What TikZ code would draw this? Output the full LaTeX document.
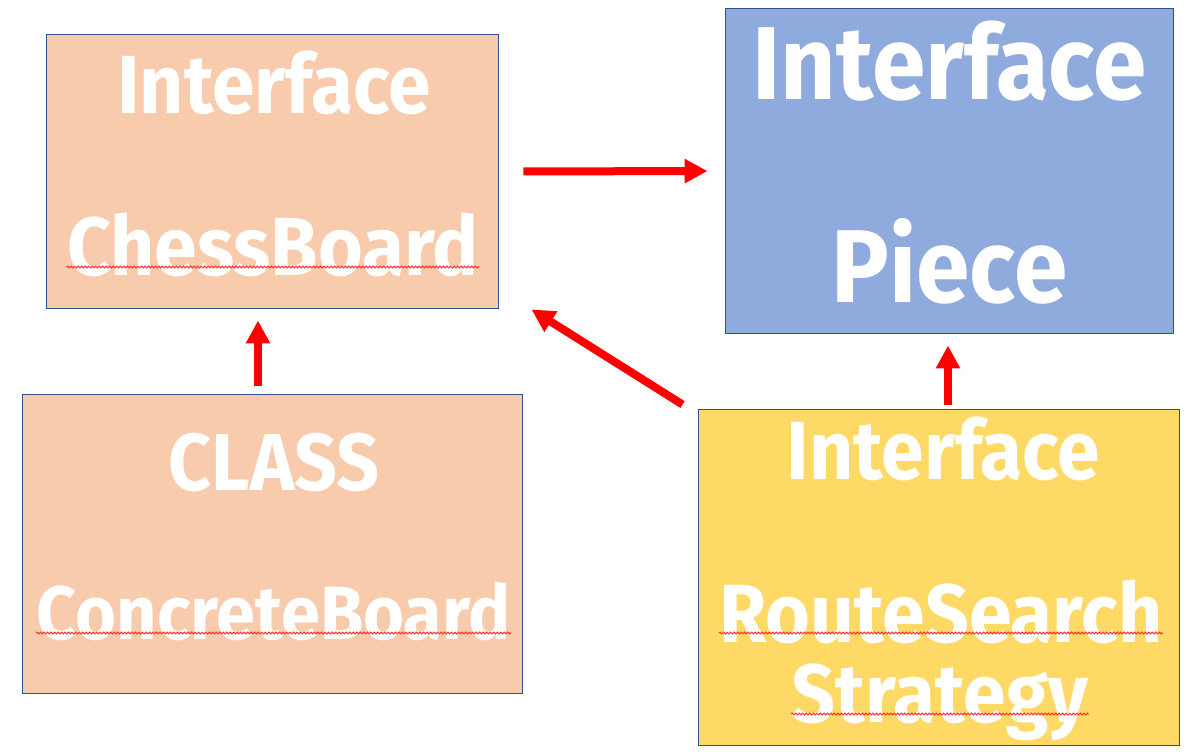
\documentclass[tikz,border=0pt]{standalone}
\usepackage{fontspec}
\setmainfont{Fira Sans}
\newfontfamily\boxfont{Fira Sans}[FakeStretch=0.93,BoldFeatures={FakeStretch=0.93}]
\usetikzlibrary{positioning,arrows.meta,calc,decorations.pathmorphing}
\definecolor{peach}{HTML}{F8CBAD}
\definecolor{skyblue}{HTML}{8FAADC}
\definecolor{sand}{HTML}{FFD966}
\definecolor{edgeblue}{HTML}{2F528F}
\tikzset{
  box/.style={draw=edgeblue,line width=0.02cm,inner sep=0pt},
  lbl/.style={text=white,anchor=base,inner sep=0pt,font=\boxfont\bfseries\fontsize{#1}{#1}\selectfont},
  arr/.style={draw=red,line width=0.16cm,-{Triangle[length=0.46cm,width=0.46cm]}},
  typo/.style={draw=red!80,line width=0.6pt,decorate,decoration={zigzag,amplitude=0.5pt,segment length=2pt}}
}
\begin{document}
\begin{tikzpicture}[x=0.02cm,y=-0.02cm]
  \useasboundingbox (0,0) rectangle (1196,754);
  % boxes
  \node[box,fill=peach,minimum width=9.06cm,minimum height=5.5cm] (cb) at (272.5,171.5) {};
  \node[box,fill=skyblue,minimum width=8.98cm,minimum height=6.52cm] (pc) at (949.5,171) {};
  \node[box,fill=peach,minimum width=10.02cm,minimum height=6cm] (cc) at (272.5,544) {};
  \node[box,fill=sand,minimum width=9.64cm,minimum height=6.74cm] (rs) at (939,577.5) {};
  % texts
  \node[lbl=47pt] (cb1) at (274,113) {Interface};
  \node[lbl=47pt] (cb2) at (273,275) {ChessBoard};
  \node[lbl=59pt] (pc1) at (949.5,99) {Interface};
  \node[lbl=59pt] (pc2) at (949.5,302) {Piece};
  \node[lbl=46pt] (cc1) at (274,490) {CLASS};
  \node[lbl=43pt] (cc2) at (273.5,639) {ConcreteBoard};
  \node[lbl=47pt] (rs1) at (943.5,479) {Interface};
  \node[lbl=47pt] (rs2) at (941,642) {RouteSearch};
  \node[lbl=47pt] (rs3) at (940,722) {Strategy};
  % spelling marks
  \draw[typo] ([yshift=0.16cm]cb2.base west) -- ([yshift=0.16cm]cb2.base east);
  \draw[typo] ([yshift=0.12cm]cc2.base west) -- ([yshift=0.12cm]cc2.base east);
  \draw[typo] ([yshift=0.18cm]rs2.base west) -- ([yshift=0.18cm]rs2.base east);
  \draw[typo] ([yshift=0.16cm]rs3.base west) -- ([yshift=0.16cm]rs3.base east);
  % arrows
  \draw[arr,shorten <=0.48cm,shorten >=0.34cm] (cb.east) -- (pc.west);
  \draw[arr] ($(cc.north)+(-14.5,-8)$) -- ($(cb.south)+(-14.5,11)$);
  \draw[arr] ($(rs.north west)+(-15,-4)$) -- ($(cb.south east)+(32,0)$);
  \draw[arr] ($(rs.north)+(9,-4)$) -- ($(pc.south)+(-1.5,11)$);
\end{tikzpicture}
\end{document}
